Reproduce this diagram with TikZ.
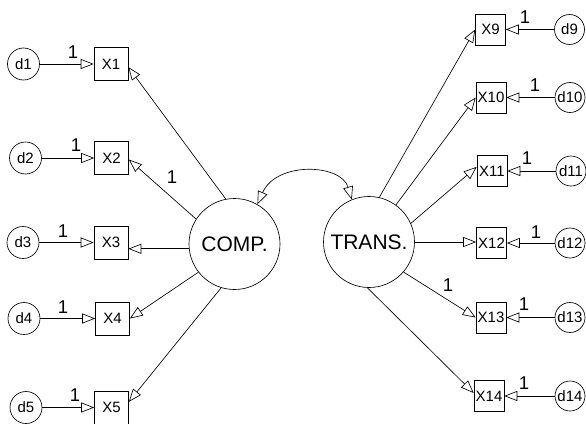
\documentclass[tikz,border=0pt]{standalone}
\usepackage{fontspec}
\setmainfont{Liberation Sans}
\usetikzlibrary{arrows.meta}

\tikzset{
  fehler/.style={draw, circle, inner sep=0pt, minimum size=32pt, font=\fontsize{15}{15}\selectfont},
  fehlerR/.style={fehler, minimum size=30pt},
  indikator/.style={draw, rectangle, inner sep=0pt, minimum width=34pt, minimum height=33pt, font=\fontsize{15}{15}\selectfont},
  indikatorR/.style={indikator, minimum width=30pt, minimum height=31pt},
  faktor/.style={draw, circle, inner sep=0pt, minimum size=91pt, font=\fontsize{21}{21}\selectfont},
  spitze/.tip={Triangle[open,length=13pt,width=10pt]},
  pfeil/.style={-spitze},
  gewicht/.style={inner sep=0pt, font=\fontsize{18.5}{18.5}\selectfont},
}

\begin{document}
\begin{tikzpicture}[x=1pt,y=-1pt,line width=0.65pt]
			\useasboundingbox (0,0) rectangle (586,423);

			% Faktoren
			\node[faktor] (comp) at (234.5,244) {COMP.};
			\node[faktor] (trans) at (369,242) {TRANS.};

			% Indikatoren links
			\node[indikator] (x1) at (111,64) {X1};
			\node[indikator] (x2) at (111.5,158) {X2};
			\node[indikator] (x3) at (111,242.5) {X3};
			\node[indikator] (x4) at (112.5,318.5) {X4};
			\node[indikator] (x5) at (111.5,407.5) {X5};

			% Fehler links
			\node[fehler] (d1) at (23.5,64) {d1};
			\node[fehler] (d2) at (25.5,158) {d2};
			\node[fehler] (d3) at (23,242.5) {d3};
			\node[fehler] (d4) at (24,318.5) {d4};
			\node[fehler] (d5) at (26,407.5) {d5};

			% Indikatoren rechts
			\node[indikatorR] (x9) at (490.5,29.5) {X9};
			\node[indikatorR] (x10) at (491,97.5) {X10};
			\node[indikatorR] (x11) at (492,171) {X11};
			\node[indikatorR] (x12) at (491.5,243) {X12};
			\node[indikatorR] (x13) at (491,317.5) {X13};
			\node[indikatorR] (x14) at (489,396) {X14};

			% Fehler rechts
			\node[fehlerR] (d9) at (569.5,29.5) {d9};
			\node[fehlerR] (d10) at (570,97.5) {d10};
			\node[fehlerR] (d11) at (571,171) {d11};
			\node[fehlerR] (d12) at (570,243) {d12};
			\node[fehlerR] (d13) at (570,317.5) {d13};
			\node[fehlerR] (d14) at (570,396) {d14};

			% Fehlerpfade
			\draw[pfeil] (d1) -- (x1);
			\draw[pfeil] (d2) -- (x2);
			\draw[pfeil] (d3) -- (x3);
			\draw[pfeil] (d4) -- (x4);
			\draw[pfeil] (d5) -- (x5);
			\draw[pfeil] (d9) -- (x9);
			\draw[pfeil] (d10) -- (x10);
			\draw[pfeil] (d11) -- (x11);
			\draw[pfeil] (d12) -- (x12);
			\draw[pfeil] (d13) -- (x13);
			\draw[pfeil] (d14) -- (x14);

			% Ladungen COMP.
			\draw[pfeil] (comp.101) -- (x1.-10);
			\draw[pfeil] (comp.147) -- (x2.-5);
			\draw[pfeil] (comp.186) -- (comp.186 -| x3.east);
			\draw[pfeil] (comp.218) -- (x4.east);
			\draw[pfeil] (comp.253) -- (x5.18);

			% Ladungen TRANS.
			\draw[pfeil] (trans.77) -- (x9.west);
			\draw[pfeil] (trans.54) -- (x10.west);
			\draw[pfeil] (trans.24) -- (x11.165);
			\draw[pfeil] (trans.0) -- (trans.0 -| x12.west);
			\draw[pfeil] (trans.-41) -- (x13.west);
			\draw[pfeil] (trans.-92) -- (x14.169);

			% Kovarianz
			\draw[spitze-spitze] (comp.60) .. controls +(19,-43) and +(-11,-36) .. (trans.112);

			% Fixierte Gewichte
			\node[gewicht] (w1) at (73,52) {1};
			\node[gewicht] (w2) at (76,145) {1};
			\node[gewicht] (w3) at (63,231) {1};
			\node[gewicht] (w4) at (63,307) {1};
			\node[gewicht] (w5) at (75,395) {1};
			\node[gewicht] (w9) at (525,17) {1};
			\node[gewicht] (w10) at (535,85) {1};
			\node[gewicht] (w11) at (527,158) {1};
			\node[gewicht] (w12) at (536,232) {1};
			\node[gewicht] (w13) at (524,304) {1};
			\node[gewicht] (w14) at (524,383) {1};
			\node[gewicht] (lx2) at (172,177) {1};
			\node[gewicht] (lx13) at (448,285) {1};

		\end{tikzpicture}
\end{document}
